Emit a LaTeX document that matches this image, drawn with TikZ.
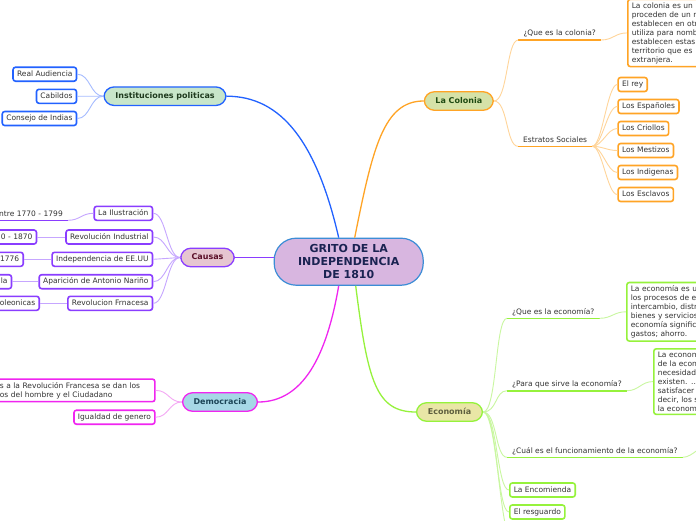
\documentclass[tikz,border=0pt]{standalone}
\usepackage{fontspec}
\setmainfont{DejaVu Sans}
\usetikzlibrary{positioning}

\definecolor{leaftext}{HTML}{333333}
\definecolor{rootfill}{HTML}{D8B6E0}
\definecolor{rootdraw}{HTML}{3C8DD6}
\definecolor{roottext}{HTML}{1B2352}
\definecolor{bluebr}{HTML}{2262FF}
\definecolor{bluelt}{HTML}{A6BCFF}
\definecolor{purplebr}{HTML}{8A3DFF}
\definecolor{purplelt}{HTML}{C6A6FF}
\definecolor{magbr}{HTML}{F025F0}
\definecolor{maglt}{HTML}{F4A8F4}
\definecolor{orangebr}{HTML}{FFA425}
\definecolor{orangelt}{HTML}{FFD59A}
\definecolor{greenbr}{HTML}{96F23C}
\definecolor{greenlt}{HTML}{C9F7A0}
\definecolor{instfill}{HTML}{C8E6CA}
\definecolor{insttext}{HTML}{1E3A1E}
\definecolor{causfill}{HTML}{E6C6D0}
\definecolor{caustext}{HTML}{5A0F28}
\definecolor{demofill}{HTML}{A6D8E6}
\definecolor{demotext}{HTML}{1C4658}
\definecolor{colfill}{HTML}{D5E2A8}
\definecolor{coltext}{HTML}{1F4A12}
\definecolor{ecofill}{HTML}{E9E6A6}
\definecolor{ecotext}{HTML}{5E5E3E}

\begin{document}
\begin{tikzpicture}[
    x=1pt, y=-1pt,
    every node/.style={font=\fontsize{7.5}{9}\selectfont, text=leaftext},
    topic/.style={
        rounded corners=10pt, line width=1.3pt, minimum height=18.5pt,
        font=\fontsize{8}{9.5}\selectfont\bfseries,
        text height=6pt, text depth=1.5pt
    },
    leaf/.style={
        rounded corners=2.5pt, line width=1.6pt, fill=white,
        minimum height=14pt, inner xsep=4pt, inner ysep=2pt,
        text height=6pt, text depth=2pt
    },
    note/.style={
        rounded corners=2.5pt, line width=1.6pt, fill=white,
        inner xsep=4pt, inner ysep=3pt, align=left
    },
    ulabel/.style={inner xsep=5pt, inner ysep=2pt, text height=6pt, text depth=2pt},
    branch/.style={line width=1.3pt},
    twig/.style={line width=0.9pt}
]

\useasboundingbox[fill=white] (0,0) rectangle (696,520);
\clip (0,0) rectangle (696,520);

% =================================================
% CENTRO
% =================================================

\node[
    draw=rootdraw,
    fill=rootfill,
    line width=1.2pt,
    rounded corners=22pt,
    minimum width=149pt,
    minimum height=47pt,
    align=center,
    text=roottext,
    font=\fontsize{11}{12.8}\selectfont\bfseries
] (grito) at (348.7,261.7)
{GRITO DE LA\\INDEPENDENCIA\\DE 1810};

% =================================================
% INSTITUCIONES POLITICAS
% =================================================

\node[
    topic,
    draw=bluebr,
    fill=instfill,
    text=insttext,
    minimum width=122pt
] (inst) at (165,96.2)
{Instituciones politicas};

\foreach \y/\t/\n in {
    74.2/Real Audiencia/real,
    96.3/Cabildos/cabildos,
    118.5/Consejo de Indias/consejo
}{
    \node[leaf, draw=bluebr, anchor=east] (\n) at (77.3,\y) {\t};
    \draw[twig, bluelt] (inst.west) .. controls +(-13,0) and +(13,0) .. (\n.east);
}

\draw[branch, bluebr] ([xshift=-10pt]grito.north)
    .. controls +(-22,-95) and +(55,0) .. (inst.east);

% =================================================
% CAUSAS
% =================================================

\node[
    topic,
    draw=purplebr,
    fill=causfill,
    text=caustext,
    minimum width=53.5pt
] (causas) at (207.5,257.5)
{Causas};

\foreach \y/\t/\n in {
    213.3/La Ilustración/ilus,
    237/Revolución Industrial/revind,
    259.3/Independencia de EE.UU/indeeuu,
    281.7/Aparición de Antonio Nariño/narino,
    303.3/Revolucion Frnacesa/revfr
}{
    \node[leaf, draw=purplebr, anchor=east] (\n) at (153.3,\y) {\t};
    \draw[twig, purplelt] (causas.west) .. controls +(-13,0) and +(13,0) .. (\n.east);
}

% Ramas cortadas a la izquierda
\node[
    ulabel,
    anchor=south east,
    text width=80pt,
    align=right
] (ilusfecha) at (68,220.3)
{ntre 1770 - 1799};
\draw[purplebr, line width=1.6pt] (ilusfecha.south west) -- (ilusfecha.south east);
\draw[twig, purplelt] (ilus.west) .. controls +(-12,0) and +(12,0) .. (ilusfecha.south east);

\foreach \x/\y/\t/\n/\p in {
    37.3/237/0 - 1870/revindfecha/revind,
    24/259.3/1776/indeeuufecha/indeeuu,
    12.3/281.7/la/narinofin/narino,
    40/303.3/poleonicas/revfrfin/revfr
}{
    \node[leaf, draw=purplebr, anchor=east, text width=60pt, align=right] (\n) at (\x,\y) {\t};
    \draw[twig, purplelt] (\p.west) -- (\n.east);
}

\draw[branch, purplebr] (causas.east) -- (causas.east -| grito.west);

% =================================================
% DEMOCRACIA
% =================================================

\node[
    topic,
    draw=magbr,
    fill=demofill,
    text=demotext,
    minimum width=75pt
] (demo) at (220,402)
{Democracia};

\node[
    note,
    draw=magbr,
    anchor=north east,
    text width=151pt
] (derechos) at (155.7,378.3)
{s a la Revolución Francesa se dan los\\os del hombre y el Ciudadano};

\node[leaf, draw=magbr, anchor=east] (igualdad) at (155.7,417.2) {Igualdad de genero};

\draw[twig, maglt] (demo.west) .. controls +(-13,0) and +(13,0) .. (derechos.east);
\draw[twig, maglt] (demo.west) .. controls +(-13,0) and +(13,0) .. (igualdad.east);

\draw[branch, magbr] ([xshift=-10pt]grito.south)
    .. controls +(-12,70) and +(45,0) .. (demo.east);

% =================================================
% LA COLONIA
% =================================================

\node[
    topic,
    draw=orangebr,
    fill=colfill,
    text=coltext,
    minimum width=69pt
] (colonia) at (458.8,101)
{La Colonia};

\node[ulabel, anchor=south west] (quecol) at (518.3,40) {¿Que es la colonia?};
\draw[orangebr, line width=1.6pt] (quecol.south west) -- (quecol.south east);

\node[
    note,
    draw=orangebr,
    anchor=north west,
    text width=80pt
] (defcol) at (627,-1.5)
{La colonia es un\\proceden de un m\\establecen en otr\\utiliza para nomb\\establecen estas\\territorio que es\\extranjera.};

\node[ulabel, anchor=south west] (estratos) at (518,146.3) {Estratos Sociales};
\draw[orangebr, line width=1.6pt] (estratos.south west) -- (estratos.south east);

\draw[twig, orangelt] (colonia.east) .. controls +(14,0) and +(-12,0) .. (quecol.south west);
\draw[twig, orangelt] (colonia.east) .. controls +(14,0) and +(-12,0) .. (estratos.south west);
\draw[twig, orangelt] (quecol.south east) .. controls +(12,0) and +(-12,0) .. (defcol.west);

\foreach \t [count=\i] in {
    El rey,
    Los Españoles,
    Los Criollos,
    Los Mestizos,
    Los Indigenas,
    Los Esclavos
}{
    \node[leaf, draw=orangebr, anchor=west] (estrato\i) at (617.3,{84.5+22*(\i-1)}) {\t};
    \draw[twig, orangelt] (estratos.south east) .. controls +(10,0) and +(-10,0) .. (estrato\i.west);
}

\draw[branch, orangebr] ([xshift=6pt]grito.north)
    .. controls +(18,-90) and +(-40,0) .. (colonia.west);

% =================================================
% ECONOMIA
% =================================================

\node[
    topic,
    draw=greenbr,
    fill=ecofill,
    text=ecotext,
    minimum width=66pt
] (eco) at (449.5,412)
{Economía};

\node[ulabel, anchor=south west] (queeco) at (507,318.3) {¿Que es la economía?};
\draw[greenbr, line width=1.6pt] (queeco.south west) -- (queeco.south east);

\node[
    note,
    draw=greenbr,
    anchor=north west,
    text width=80pt
] (defeco) at (626,281.7)
{La economía es u\\los procesos de e\\intercambio, distr\\bienes y servicios\\economía signific\\gastos; ahorro.};

\node[ulabel, anchor=south west] (paraeco) at (507,390.7) {¿Para que sirve la economía?};
\draw[greenbr, line width=1.6pt] (paraeco.south west) -- (paraeco.south east);

\node[
    note,
    draw=greenbr,
    anchor=north west,
    text width=60pt
] (sirveeco) at (653,348)
{La econom\\de la econ\\necesidad\\existen. ..\\satisfacer\\decir, los s\\la econom};

\node[ulabel, anchor=south west] (cualeco) at (507,457.3) {¿Cuál es el funcionamiento de la economía?};
\draw[greenbr, line width=1.6pt] (cualeco.south west) -- (cualeco.south east);
\coordinate (cualmas) at (712,443);

\node[leaf, draw=greenbr, anchor=west] (encom) at (509,490) {La Encomienda};
\node[leaf, draw=greenbr, anchor=west] (resguardo) at (509,512) {El resguardo};
\coordinate (ecomas) at (512,540);

\foreach \n in {queeco.south west, paraeco.south west, cualeco.south west, encom.west, resguardo.west, ecomas}{
    \draw[twig, greenlt] (eco.east) .. controls +(14,0) and +(-12,0) .. (\n);
}
\draw[twig, greenlt] (queeco.south east) .. controls +(12,0) and +(-12,0) .. (defeco.west);
\draw[twig, greenlt] (paraeco.south east) .. controls +(12,0) and +(-12,0) .. (sirveeco.west);
\draw[twig, greenlt] (cualeco.south east) .. controls +(10,0) and +(-10,0) .. (cualmas);

\draw[branch, greenbr] ([xshift=7pt]grito.south)
    .. controls +(12,95) and +(-40,0) .. (eco.west);

\end{tikzpicture}
\end{document}
